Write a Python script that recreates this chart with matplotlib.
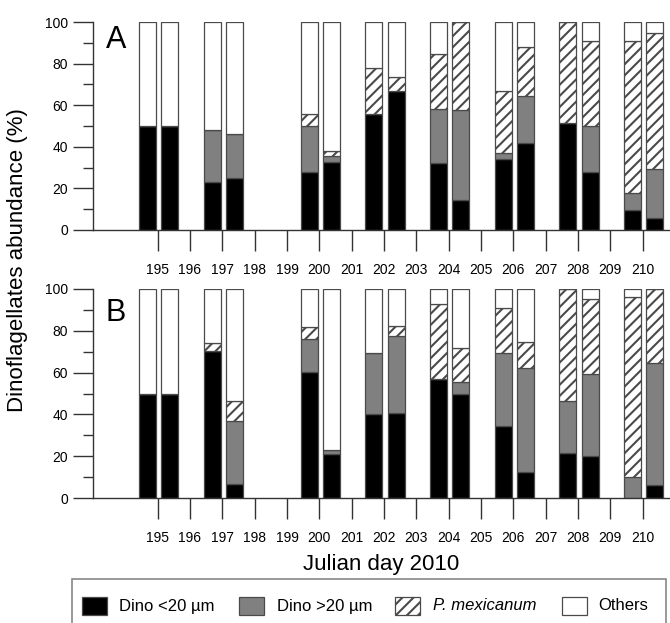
import matplotlib
matplotlib.use("Agg")
import matplotlib.pyplot as plt
from matplotlib.patches import Rectangle
import numpy as np

plt.rcParams['font.family'] = ['Liberation Sans', 'DejaVu Sans']
plt.rcParams['hatch.linewidth'] = 1.5

# ---------------- data ----------------
days = [195, 197, 200, 202, 204, 206, 208, 210]
tick_days = list(range(195, 211))
categories = ['Dino <20 µm', 'Dino >20 µm', 'P. mexicanum', 'Others']

# Panel A (two samples per day)
A_small = [50, 50, 23, 25, 28, 32.5, 56, 67, 32, 14.5, 34, 42, 51.5, 28, 9.5, 6]
A_large = [0, 0, 25, 21, 22, 3, 0, 0, 26, 43, 3, 22.5, 0, 22, 8.5, 23.5]
A_pmex = [0, 0, 0, 0, 6, 2.5, 22, 6.5, 26.5, 42.5, 30, 23.5, 48.5, 41, 73, 65]
A_others = [50, 50, 52, 54, 44, 62, 22, 26.5, 15.5, 0, 33, 12, 0, 9, 9, 5.5]

# Panel B
B_small = [50, 50, 70.5, 6.5, 60.5, 21, 40, 40.5, 57, 50, 34.5, 12.5, 21.5, 20, 0, 6]
B_large = [0, 0, 0, 30.5, 15.5, 2, 29.5, 37, 0, 5.5, 35, 49.5, 25, 39.5, 10, 58.5]
B_pmex = [0, 0, 3.5, 9.5, 6, 0, 0, 5, 36, 16.5, 21.5, 12.5, 53.5, 35.5, 86, 35.5]
B_others = [50, 50, 26, 53.5, 18, 77, 30.5, 17.5, 7, 28, 9, 25.5, 0, 5, 4, 0]

panels = [('A', [A_small, A_large, A_pmex, A_others]),
          ('B', [B_small, B_large, B_pmex, B_others])]

# ---------------- style ----------------
fc = ['#000000', '#808080', '#ffffff', '#ffffff']
hatches = [None, None, '///', None]
edge = '#4a4a4a'
sample_offsets = [-0.31, 0.38]
bar_w = 0.53

W, H = 670, 623
fig = plt.figure(figsize=(W / 100, H / 100), dpi=100)

def fx(px):
    return px / W

def fy(py):
    return 1 - py / H

axes_px = [(22, 230), (289, 498)]
for (name, series), (top, bot) in zip(panels, axes_px):
    ax = fig.add_axes([fx(93), fy(bot), fx(670) - fx(93), (bot - top) / H])
    x = np.array([d + o for d in days for o in sample_offsets])
    bottom = np.zeros(len(x))
    for vals, c, h in zip(series, fc, hatches):
        v = np.array(vals, dtype=float)
        ax.bar(x, v, bottom=bottom, width=bar_w, color=c, edgecolor=edge,
               linewidth=0.9, hatch=h, zorder=2)
        bottom += v
    ax.set_xlim(193, 210.85)
    ax.set_ylim(0, 100)
    ax.set_xticks(tick_days)
    ax.set_xticklabels([str(d) for d in tick_days], fontsize=10)
    ax.set_yticks(range(0, 101, 20))
    ax.set_yticks(range(10, 100, 20), minor=True)
    ax.tick_params(axis='y', which='major', length=14.5, width=1.0,
                   color='#333333', labelsize=10, pad=3.5)
    ax.tick_params(axis='y', which='minor', length=7.2, width=1.0,
                   color='#333333')
    ax.tick_params(axis='x', which='major', length=15, width=1.0,
                   color='#333333', pad=9)
    for s in ['top', 'right']:
        ax.spines[s].set_visible(False)
    for s in ['left', 'bottom']:
        ax.spines[s].set_color('#333333')
        ax.spines[s].set_linewidth(1.0)
    ax.text(0.022, 0.985 if name == 'A' else 0.955, name,
            transform=ax.transAxes, fontsize=22, ha='left', va='top')
    if name == 'B':
        ax.set_xlabel('Julian day 2010', fontsize=16, labelpad=6)

fig.text(fx(18), fy(260), 'Dinoflagellates abundance (%)', rotation=90,
         fontsize=16, ha='center', va='center')

# ---------------- legend (box cut by the figure bottom) ----------------
fig.patches.append(Rectangle((fx(72), fy(640)), fx(666) - fx(72),
                             fy(579) - fy(640), transform=fig.transFigure,
                             facecolor='white', edgecolor='#888888',
                             linewidth=1.2, zorder=1))
sq_x = [82, 239, 395, 562]
tx_x = [119, 277, 433, 598]
for lab, c, h, sx, tx in zip(categories, fc, hatches, sq_x, tx_x):
    fig.patches.append(Rectangle((fx(sx), fy(615)), 25 / W, 18 / H,
                                 transform=fig.transFigure, facecolor=c,
                                 edgecolor=edge, linewidth=0.9, hatch=h,
                                 zorder=2))
    style = 'italic' if lab.startswith('P.') else 'normal'
    fig.text(fx(tx), fy(606), lab, fontsize=12, ha='left', va='center',
             style=style, zorder=3)

fig.savefig('out.png', dpi=100)
